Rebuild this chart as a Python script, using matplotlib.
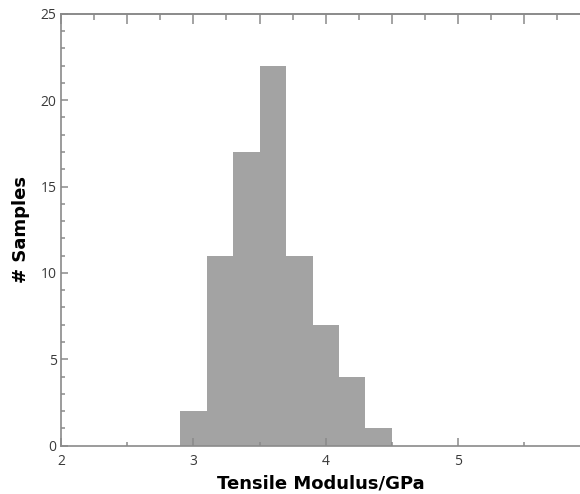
import matplotlib.pyplot as plt
from matplotlib.ticker import MultipleLocator, NullFormatter

# histogram of tensile modulus
bin_left = [2.9, 3.1, 3.3, 3.5, 3.7, 3.9, 4.1, 4.3]
bin_width = 0.2
counts = [2, 11, 17, 22, 11, 7, 4, 1]

axis_col = '#8a8a8a'
text_col = '#3a3a3a'

fig = plt.figure(figsize=(5.8, 4.94), dpi=100)
ax = fig.add_axes([0.105, 0.098, 0.895, 0.874])

ax.bar(bin_left, counts, width=bin_width, align='edge', color='#a3a3a3',
       edgecolor='none', linewidth=0)

ax.set_xlim(2, 5.92)
ax.set_ylim(0, 25)

ax.xaxis.set_major_locator(MultipleLocator(1))
ax.xaxis.set_minor_locator(MultipleLocator(0.5))
ax.yaxis.set_major_locator(MultipleLocator(5))
ax.yaxis.set_minor_locator(MultipleLocator(1))

for s in ['left', 'bottom', 'top']:
    ax.spines[s].set_color(axis_col)
    ax.spines[s].set_linewidth(1.2)
ax.spines['right'].set_visible(False)

ax.tick_params(which='both', direction='in', color=axis_col, width=1.1,
               labelcolor=text_col, labelsize=10)
ax.tick_params(axis='y', which='major', length=5, pad=3)
ax.tick_params(axis='y', which='minor', length=3)
ax.tick_params(axis='x', which='major', length=6, pad=6)
ax.tick_params(axis='x', which='minor', length=3)

# top axis has its own finer ticks, no labels
top = ax.secondary_xaxis('top')
top.xaxis.set_major_locator(MultipleLocator(0.5))
top.xaxis.set_minor_locator(MultipleLocator(0.25))
top.xaxis.set_major_formatter(NullFormatter())
top.spines['top'].set_color(axis_col)
top.spines['top'].set_linewidth(1.2)
top.tick_params(which='both', direction='in', color=axis_col, width=1.1)
top.tick_params(which='major', length=7)
top.tick_params(which='minor', length=4)

for lab in ax.get_xticklabels() + ax.get_yticklabels():
    lab.set_family('Open Sans')

ax.set_xlabel('Tensile Modulus/GPa', fontsize=13, fontweight='bold',
              family='DejaVu Sans', labelpad=4)
ax.set_ylabel('# Samples', fontsize=13, fontweight='bold',
              family='DejaVu Sans', labelpad=8)

fig.savefig('out.png', dpi=100)
